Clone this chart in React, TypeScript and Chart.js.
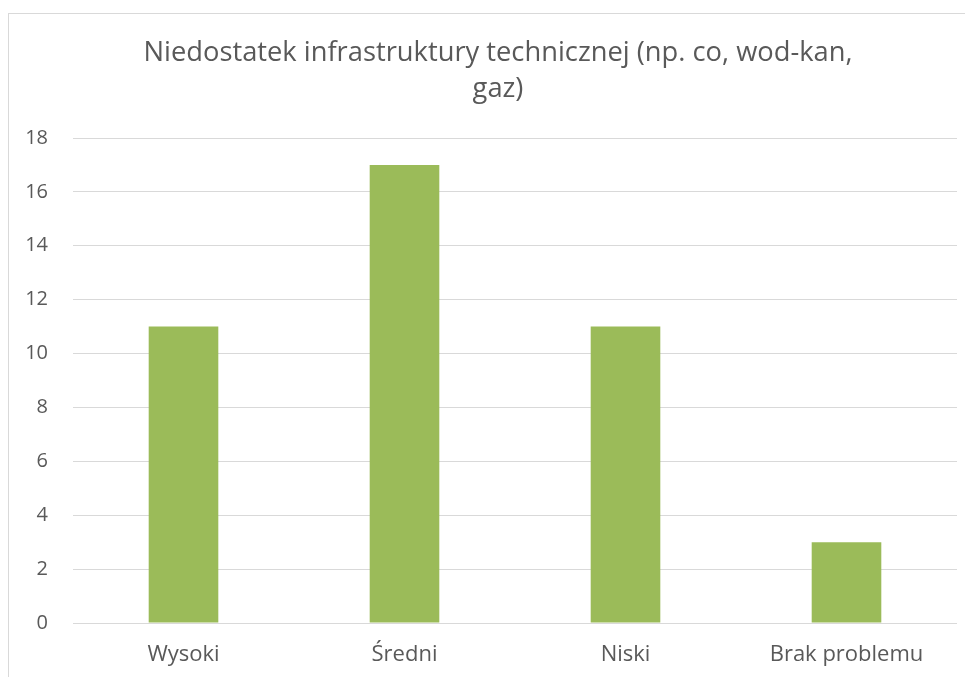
import React, { useEffect, useRef } from "react";
import { Chart, registerables } from "chart.js";

Chart.register(...registerables);

const categories = ["Wysoki", "Średni", "Niski", "Brak problemu"];
const values = [11, 17, 11, 3];
const titleLines = ["Niedostatek infrastruktury technicznej (np. co, wod-kan,", "gaz)"];

const TEXT = "#595959";
const GRID = "#d9d9d9";
const BAR = "#9bbb59";
const FONT = "'Open Sans', 'Liberation Sans', sans-serif";

export default function App() {
  const ref = useRef<HTMLCanvasElement | null>(null);

  useEffect(() => {
    document.documentElement.style.overflow = "hidden";
    document.body.style.overflow = "hidden";
    const canvas = ref.current;
    if (!canvas) return;
    const chart = new Chart(canvas, {
      type: "bar",
      data: {
        labels: categories,
        datasets: [
          {
            data: values,
            backgroundColor: BAR,
            borderWidth: 0,
            barPercentage: 0.315,
            categoryPercentage: 1,
          },
        ],
      },
      options: {
        responsive: false,
        animation: false,
        devicePixelRatio: 1,
        layout: { padding: { top: 9, right: 0, left: 0, bottom: 21 } },
        plugins: {
          legend: { display: false },
          tooltip: { enabled: false },
          title: {
            display: true,
            text: titleLines,
            color: TEXT,
            font: { family: FONT, size: 27.3, weight: "normal", lineHeight: 36 / 27.3 },
            padding: { top: 12, bottom: 31 },
          },
        },
        scales: {
          x: {
            grid: { display: false },
            border: { display: false },
            ticks: {
              color: TEXT,
              font: { family: FONT, size: 22 },
              padding: 11,
              maxRotation: 0,
              autoSkip: false,
            },
            afterFit: (s: any) => {
              s.height = 50;
            },
          },
          y: {
            min: 0,
            max: 18,
            grid: { color: GRID, lineWidth: 1, drawTicks: false },
            border: { display: false },
            ticks: {
              stepSize: 2,
              color: TEXT,
              font: { family: FONT, size: 20 },
              padding: 25,
            },
            afterFit: (s: any) => {
              s.width = 64;
            },
          },
          yRight: {
            position: "right",
            display: true,
            min: 0,
            max: 18,
            grid: { display: false, drawTicks: false },
            border: { display: false },
            ticks: { display: false },
            afterFit: (s: any) => {
              s.width = 30;
            },
          },
        },
      },
    });
    return () => chart.destroy();
  }, []);

  return (
    <div style={{ width: 965, height: 669, overflow: "hidden", position: "relative" }}>
      <div
        style={{
          position: "absolute",
          top: 5,
          left: 0,
          width: 978,
          height: 680,
          border: `1px solid ${GRID}`,
          background: "#fff",
        }}
      >
        <canvas ref={ref} width={978} height={680} style={{ display: "block" }} />
      </div>
    </div>
  );
}
